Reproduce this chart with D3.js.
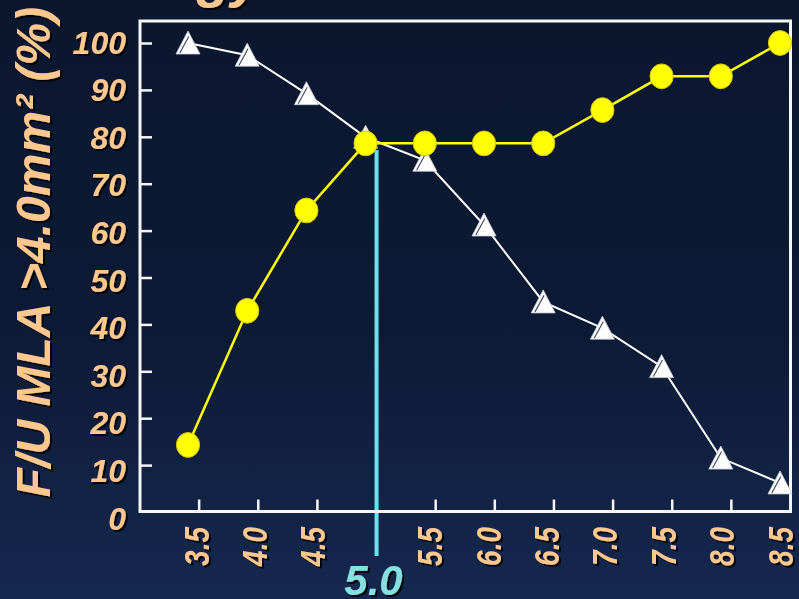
<!DOCTYPE html>
<html>
<head>
<meta charset="utf-8">
<script src="https://cdn.jsdelivr.net/npm/d3@7"></script>
<style>
  html, body { margin: 0; padding: 0; background: #0c1830; overflow: hidden; }
  svg { display: block; }
</style>
</head>
<body>
<svg id="chart" width="799" height="599"></svg>
<script>
// Baseline MLA cut-off values (mm²) along the x axis
const thresholds = [3.5, 4.0, 4.5, 5.0, 5.5, 6.0, 6.5, 7.0, 7.5, 8.0, 8.5];
const tickLabels = ["3.5", "4.0", "4.5", "5.0", "5.5", "6.0", "6.5", "7.0", "7.5", "8.0", "8.5"];
// Percent values of the two curves
const triangleSeries = [100, 97.4, 89.2, 79.9, 75, 61.2, 44.8, 39.2, 31, 11.5, 6.2];
const circleSeries = [14.3, 42.9, 64.3, 78.6, 78.6, 78.6, 78.6, 85.7, 92.9, 92.9, 100];
const yTicks = [0, 10, 20, 30, 40, 50, 60, 70, 80, 90, 100];
const cutoff = 5.0;
const cutoffLabel = "5.0";
const yTitle = "F/U MLA >4.0mm² (%)";
const headline = "Strategy";

const W = 799, H = 599;
const frame = { left: 140, right: 790.5, top: 21, bottom: 511.5 };
const peach = "#fcc890";
const cyan = "#5fe9ee";

const svg = d3.select("#chart");
const defs = svg.append("defs");

const bg = defs.append("linearGradient").attr("id", "bg")
  .attr("x1", 0).attr("y1", 0).attr("x2", 0).attr("y2", 1);
bg.append("stop").attr("offset", "0%").attr("stop-color", "#0b172f");
bg.append("stop").attr("offset", "55%").attr("stop-color", "#0d1a35");
bg.append("stop").attr("offset", "100%").attr("stop-color", "#15284f");

const sh = defs.append("filter").attr("id", "shadow")
  .attr("x", "-20%").attr("y", "-20%").attr("width", "140%").attr("height", "140%");
sh.append("feDropShadow").attr("dx", 2).attr("dy", 2).attr("stdDeviation", 0.6)
  .attr("flood-color", "#000").attr("flood-opacity", 0.9);

svg.append("rect").attr("width", W).attr("height", H).attr("fill", "url(#bg)");

// Scales
const y = d3.scaleLinear().domain([0, 100]).range([512, 43]);
const yLab = d3.scaleLinear().domain([0, 100]).range([518, 42]);
const x = d3.scaleLinear().domain([3.5, 8.5]).range([188, 780]);
const xLab = d3.scaleLinear().domain([3.5, 8.5]).range([196, 780]);
const xBand = d3.scaleBand().domain(tickLabels).range([frame.left, frame.right]);
const bandEnd = d => xBand(d) + xBand.bandwidth();

// Cut-off marker line (drawn beneath the curves)
svg.append("line")
  .attr("x1", bandEnd(cutoffLabel)).attr("x2", bandEnd(cutoffLabel))
  .attr("y1", 150).attr("y2", 556)
  .attr("stroke", cyan).attr("stroke-width", 4);

// Plot frame
svg.append("rect")
  .attr("x", frame.left).attr("y", frame.top)
  .attr("width", frame.right - frame.left).attr("height", frame.bottom - frame.top)
  .attr("fill", "none").attr("stroke", "#f6f6f6").attr("stroke-width", 3);

// Inward y ticks on the left edge
svg.append("g")
  .attr("transform", `translate(${frame.left},0)`)
  .call(d3.axisRight(y).tickValues(yTicks.filter(d => d > 0)).tickSize(12).tickFormat(""))
  .call(g => g.select(".domain").remove())
  .call(g => g.selectAll("line").attr("stroke", "#f6f6f6").attr("stroke-width", 2.5));

// Upward x ticks at the category boundaries
svg.append("g").selectAll("line")
  .data(tickLabels.slice(0, -1).filter(d => d !== cutoffLabel))
  .join("line")
  .attr("x1", d => bandEnd(d)).attr("x2", d => bandEnd(d))
  .attr("y1", frame.bottom).attr("y2", frame.bottom - 12)
  .attr("stroke", "#f6f6f6").attr("stroke-width", 2.5);

// Curves
const pts = (vals) => thresholds.map((t, i) => [x(t), y(vals[i])]);
const line = d3.line();

svg.append("path").attr("d", line(pts(triangleSeries)))
  .attr("fill", "none").attr("stroke", "#ffffff").attr("stroke-width", 2);

const tri = svg.append("g").selectAll("g")
  .data(pts(triangleSeries)).join("g")
  .attr("transform", d => `translate(${d[0]},${d[1]})`);
tri.append("path").attr("d", "M0,-12L12,11L-12,11Z")
  .attr("fill", "#ffffff").attr("stroke", "#c8ccd4").attr("stroke-width", 0.8);
tri.append("path").attr("d", "M0.8,-6.5L-8.2,10")
  .attr("stroke", "#38425c").attr("stroke-width", 1.1).attr("fill", "none");

svg.append("path").attr("d", line(pts(circleSeries)))
  .attr("fill", "none").attr("stroke", "#ffff00").attr("stroke-width", 2.5);

svg.append("g").selectAll("ellipse")
  .data(pts(circleSeries)).join("ellipse")
  .attr("cx", d => d[0]).attr("cy", d => d[1])
  .attr("rx", 11.6).attr("ry", 12.4)
  .attr("fill", "#ffff00").attr("stroke", "#d6c400").attr("stroke-width", 1);

// Text layer with drop shadow
const txt = svg.append("g").attr("filter", "url(#shadow)")
  .attr("font-family", "'Liberation Sans', Arial, sans-serif")
  .attr("font-weight", "bold").attr("font-style", "italic");

txt.append("text")
  .attr("x", 262).attr("y", -4)
  .attr("text-anchor", "end").attr("font-size", 56).attr("fill", peach)
  .text(headline);

txt.append("g").selectAll("text")
  .data(yTicks).join("text")
  .attr("x", 126).attr("y", d => yLab(d)).attr("dy", "0.36em")
  .attr("text-anchor", "end").attr("font-size", 32).attr("fill", peach)
  .text(d => d);

txt.append("g").selectAll("text")
  .data(thresholds.map((t, i) => ({ t, label: tickLabels[i] })).filter(d => d.t !== cutoff))
  .join("text")
  .attr("transform", d => `translate(${xLab(d.t) + 12.5},527) rotate(-90) scale(0.8,1)`)
  .attr("text-anchor", "end").attr("font-size", 35).attr("fill", peach)
  .text(d => d.label);

txt.append("text")
  .attr("x", bandEnd(cutoffLabel) - 3).attr("y", 595)
  .attr("text-anchor", "middle").attr("font-size", 42).attr("fill", "#86e0e2")
  .text(cutoffLabel);

txt.append("text")
  .attr("transform", "translate(50,252) rotate(-90)")
  .attr("text-anchor", "middle").attr("font-size", 48).attr("fill", peach)
  .text(yTitle);
</script>
</body>
</html>
